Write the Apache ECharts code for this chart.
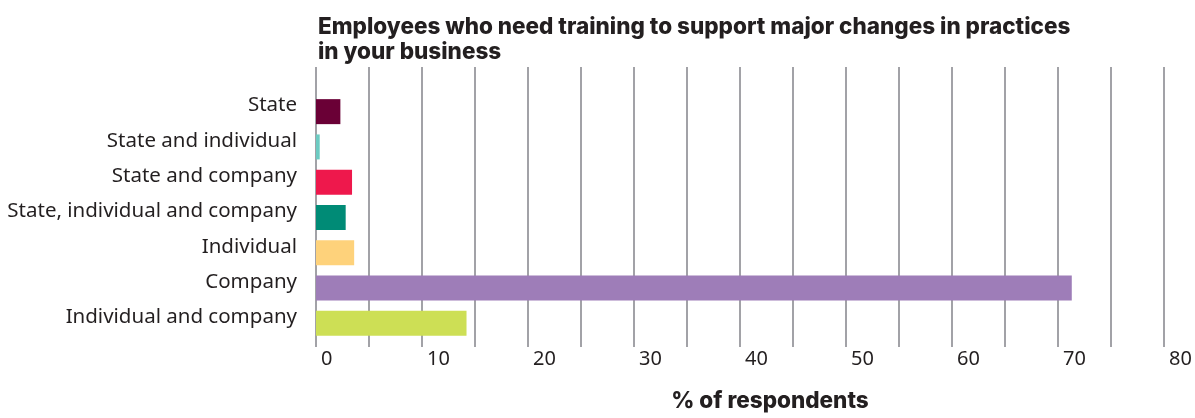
<!DOCTYPE html>
<html>
<head>
<meta charset="utf-8">
<script src="https://cdn.jsdelivr.net/npm/echarts@6/dist/echarts.min.js"></script>
<style>
  html, body { margin: 0; padding: 0; background: #ffffff; }
  #chart { width: 1195px; height: 418px; }
</style>
</head>
<body>
<div id="chart"></div>
<script>
// Who should pay for training, % of respondents
const categories = [
  'State',
  'State and individual',
  'State and company',
  'State, individual and company',
  'Individual',
  'Company',
  'Individual and company'
];
const shares = [2.3, 0.35, 3.4, 2.8, 3.6, 71.3, 14.2];
const tickValues = [0, 10, 20, 30, 40, 50, 60, 70, 80];

const barColors = ['#6a0036', '#6ccbc2', '#ee184c', '#008b76', '#fed27b', '#9e7db8', '#cddf55'];

const TEXT = '#231f20';
const GRID = '#a2a2a7';
const axisMin = tickValues[0];
const axisMax = tickValues[tickValues.length - 1];

const chart = echarts.init(document.getElementById('chart'), null, { renderer: 'canvas' });

chart.setOption({
  backgroundColor: '#ffffff',
  animation: false,
  title: {
    text: 'Employees who need training to support major changes in practices\nin your business',
    left: 313,
    top: 9,
    textStyle: {
      fontFamily: 'Inter',
      fontWeight: 800,
      fontSize: 22.5,
      lineHeight: 25.5,
      color: TEXT
    }
  },
  grid: [
    // frame for the vertical gridlines and tick labels
    { left: 316, right: 31, top: 67, height: 303 },
    // frame for the bars
    { left: 316, right: 31, top: 94, height: 247 }
  ],
  xAxis: [
    {
      gridIndex: 0,
      type: 'value',
      min: axisMin,
      max: axisMax,
      interval: 5,
      axisLine: { show: false },
      axisTick: { show: false },
      splitLine: { show: true, lineStyle: { color: GRID, width: 2 } },
      axisLabel: {
        margin: 2,
        align: 'left',
        verticalAlign: 'top',
        padding: [0, 0, 0, 5],
        fontFamily: 'Noto Sans',
        fontSize: 20,
        color: TEXT,
        formatter: v => (tickValues.includes(v) ? String(v) : '')
      },
      name: '% of respondents',
      nameLocation: 'middle',
      nameGap: 43,
      nameTextStyle: {
        fontFamily: 'Inter',
        fontWeight: 800,
        fontSize: 22.5,
        color: TEXT,
        padding: [0, 0, 0, 60]
      }
    },
    {
      gridIndex: 1,
      type: 'value',
      min: axisMin,
      max: axisMax,
      show: false
    }
  ],
  yAxis: [
    {
      gridIndex: 0,
      type: 'value',
      show: false
    },
    {
      gridIndex: 1,
      type: 'category',
      inverse: true,
      data: categories,
      axisLine: { show: false },
      axisTick: { show: false },
      splitLine: { show: false },
      axisLabel: {
        margin: 19,
        verticalAlign: 'bottom',
        lineHeight: 12,
        fontFamily: 'Noto Sans',
        fontSize: 20.5,
        color: TEXT
      }
    }
  ],
  series: [
    {
      type: 'bar',
      xAxisIndex: 1,
      yAxisIndex: 1,
      barWidth: 25,
      data: shares.map((v, i) => ({ value: v, itemStyle: { color: barColors[i] } })),
      silent: true
    }
  ]
});
</script>
</body>
</html>
